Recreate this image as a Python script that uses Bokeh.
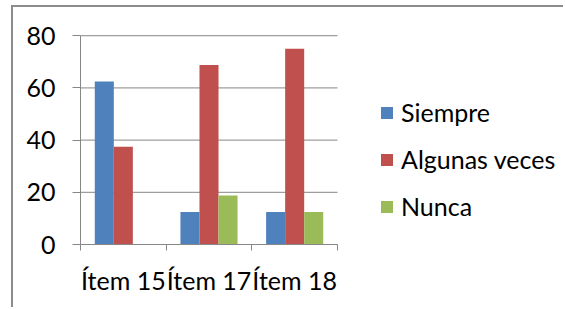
from bokeh.plotting import figure
from bokeh.models import FixedTicker, Legend, LegendItem, Range1d
from bokeh.embed import file_html
from bokeh.resources import INLINE

categories = ["Ítem 15", "Ítem 17", "Ítem 18"]
series_names = ["Siempre", "Algunas veces", "Nunca"]
siempre = [62.5, 12.5, 12.5]
algunas = [37.5, 68.75, 75.0]
nunca = [0.0, 18.75, 12.5]
y_ticks = [0, 20, 40, 60, 80]

colors = ["#4F81BD", "#C0504D", "#9BBB59"]
FONT = "Lato"
FS = "25px"
GRAY = "#868686"

W, H = 552, 302
left, bottom, top_b = 67, 65, 23
frame_w = W - left
cat_px = 257 / 3
n = len(categories)

p = figure(width=W, height=H, output_backend="svg", toolbar_location=None,
           x_range=Range1d(0, frame_w / cat_px), y_range=Range1d(0, 82),
           min_border_left=left, min_border_top=top_b, min_border_right=0, min_border_bottom=bottom,
           styles={"margin": "5px 0 0 11px",
                   "border-top": "2px solid #8c8c8c", "border-left": "2px solid #8c8c8c"})
p.outline_line_color = None
p.background_fill_color = "white"
p.border_fill_color = "white"

# horizontal gridlines limited to the category area
p.segment(x0=[0] * len(y_ticks), x1=[n] * len(y_ticks), y0=y_ticks, y1=y_ticks,
          line_color=GRAY, line_width=1)

bw = 1 / 4.5
offsets = [-bw, 0, bw]
renderers = []
for vals, col, off in zip([siempre, algunas, nunca], colors, offsets):
    xs = [i + 0.5 + off for i in range(n)]
    r = p.vbar(x=xs, top=vals, width=bw, fill_color=col, line_color=None)
    renderers.append(r)

# axes
p.xaxis.ticker = FixedTicker(ticks=[i + 0.5 for i in range(n)],
                             minor_ticks=list(range(n + 1)))
p.xaxis.major_label_overrides = {i + 0.5: c for i, c in enumerate(categories)}
p.xaxis.bounds = (0, n)
p.xaxis.major_tick_out = 0
p.xaxis.major_tick_in = 0
p.xaxis.minor_tick_out = 6
p.xaxis.minor_tick_in = 0
p.xaxis.minor_tick_line_color = GRAY
p.xaxis.axis_line_color = GRAY
p.xaxis.major_label_standoff = 14

p.yaxis.ticker = FixedTicker(ticks=y_ticks)
p.yaxis.bounds = (0, 80)
p.yaxis.major_tick_out = 8
p.yaxis.major_tick_in = 0
p.yaxis.major_tick_line_color = GRAY
p.yaxis.minor_tick_line_color = None
p.yaxis.axis_line_color = GRAY
p.yaxis.major_label_standoff = 17

for ax in [p.xaxis[0], p.yaxis[0]]:
    ax.major_label_text_font = FONT
    ax.major_label_text_font_size = FS
    ax.major_label_text_color = "black"
    ax.axis_line_width = 1

p.xgrid.grid_line_color = None
p.ygrid.grid_line_color = None

legend = Legend(items=[LegendItem(label=s, renderers=[r]) for s, r in zip(series_names, renderers)],
                location=(299, 23), orientation="vertical",
                glyph_width=15, glyph_height=15, label_height=30, spacing=17,
                label_standoff=7, padding=0, margin=0,
                border_line_color=None, background_fill_alpha=0,
                label_text_font=FONT, label_text_font_size=FS, label_text_color="black")
p.add_layout(legend)

open("out.html", "w").write(file_html(p, INLINE))
